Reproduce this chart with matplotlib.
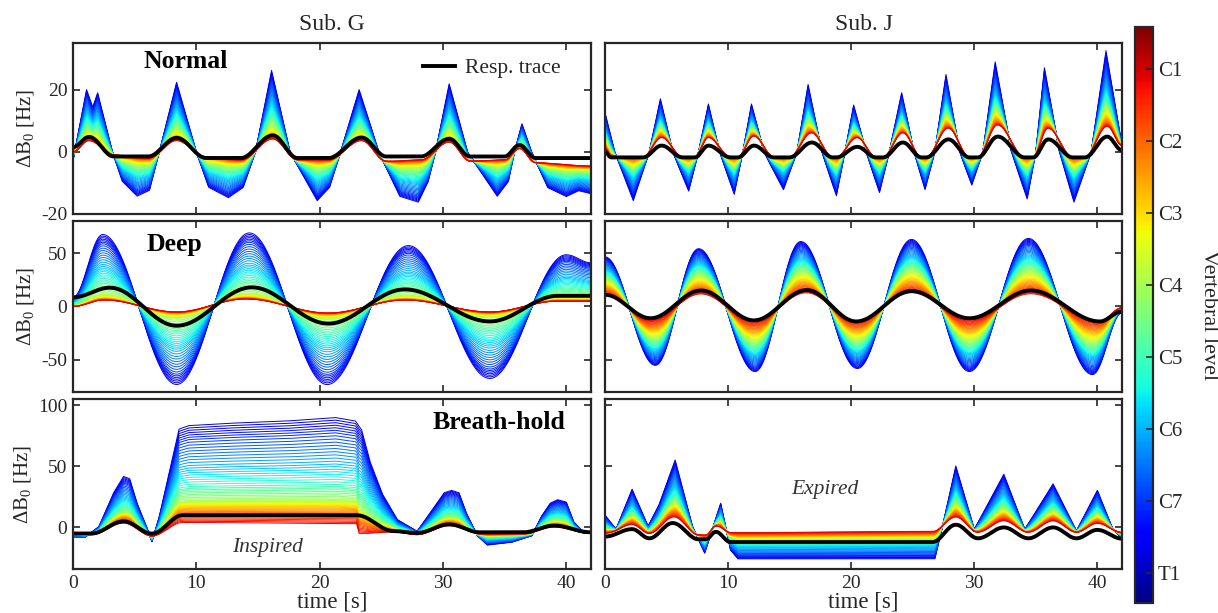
import numpy as np
import matplotlib
matplotlib.use('Agg')
import matplotlib.pyplot as plt
from matplotlib import colors

plt.rcParams['font.family'] = 'Liberation Serif'
plt.rcParams['mathtext.fontset'] = 'custom'
plt.rcParams['mathtext.rm'] = 'Liberation Serif'
plt.rcParams['mathtext.it'] = 'Liberation Serif:italic'
plt.rcParams['axes.unicode_minus'] = False

TXT = '#262626'

# vertebral levels, bottom (T1) to top (C1) of the colour bar
level_names = ['T1', 'C7', 'C6', 'C5', 'C4', 'C3', 'C2', 'C1']

# ---- Sub. G, normal breathing ----
ng_trace_t = [0, 1.3, 3.3, 6.1, 8.4, 10.8, 13.6, 16.2, 18.2, 20.7, 23.4, 25.4, 28.2, 30.5, 32.2, 35.0, 36.2, 37.5, 42]
ng_trace = [1.5, 4.8, -1.5, -1.5, 4.5, -2.0, -2.0, 5.3, -2.0, -2.0, 4.6, -1.5, -1.5, 4.2, -1.5, -1.5, 2.2, -2.0, -2.0]
ng_c1_t = ng_trace_t
ng_c1 = [0.0, 3.5, -1.0, -2.0, 3.5, -1.5, -2.5, 4.0, -2.5, -2.5, 3.5, -3.0, -2.5, 3.0, -3.0, -2.5, 1.0, -3.5, -4.5]
ng_t1_t = [0, 1.1, 1.6, 2.0, 3.2, 4.0, 5.2, 6.2, 7.0, 8.4, 10.0, 11.0, 12.6, 13.8, 14.8, 16.1, 17.6, 19.8, 20.8,
           21.7, 23.2, 24.8, 26.5, 28.0, 28.8, 29.4, 30.5, 32.0, 34.4, 35.3, 35.8, 36.4, 37.2, 38.5, 40.0, 41.0, 42]
ng_t1 = [-3, 21, 15, 20, 0, -10, -15, -13, 0, 23.5, 0, -12, -15.5, -12, 0, 27.5, 0, -16.5, -12,
         0, 21, 0, -15, -17, -10, 0, 23, 0, -15, -10, 0, 9.5, 0, -12, -15, -13, -14]
ng_gain = [1.0, 0.8, 0.55, 0.35, 0.2, 0.1, 0.04, 0.0]

# ---- Sub. J, normal breathing ----
nj_trace_t = [0, 0.5, 3.1, 4.6, 6.3, 7.3, 8.4, 10.2, 10.8, 12.1, 13.7, 15.0, 16.8, 18.5, 18.8, 20.5, 22.0, 22.6,
              24.2, 25.7, 26.1, 27.9, 29.6, 30.3, 31.9, 34.1, 34.8, 36.0, 38.0, 39.0, 40.8, 42]
nj_trace = [0.0, -1.8, -1.8, 2.0, -1.8, -1.8, 2.0, -1.8, -1.8, 2.0, -1.8, -1.8, 3.0, -1.8, -1.8, 1.6, -1.8, -1.8,
            3.0, -1.8, -1.8, 4.0, -1.8, -1.8, 4.9, -1.8, -1.8, 4.0, -1.8, -1.8, 4.9, 0.5]
nj_c1_t = nj_trace_t
nj_c1 = [1.0, -1.5, -1.5, 4.5, -1.5, -1.5, 4.5, -1.5, -1.5, 5.0, -1.5, -1.5, 6.0, -1.5, -1.5, 4.5, -1.5, -1.5,
         6.0, -1.5, -1.5, 7.5, -1.5, -1.5, 8.5, -1.5, -1.5, 7.5, -1.5, -1.5, 8.0, 2.0]
nj_t1_t = [0, 0.8, 2.3, 3.6, 4.5, 5.5, 6.8, 7.6, 8.4, 9.3, 10.5, 11.2, 11.9, 12.9, 14.5, 15.6, 16.5, 17.6, 18.8,
           19.5, 20.2, 21.2, 22.3, 23.1, 24.1, 25.1, 26.0, 26.8, 27.7, 28.8, 29.8, 30.7, 31.7, 33.0, 34.3, 35.0,
           35.7, 36.9, 38.1, 39.5, 40.7, 42]
nj_t1 = [13.5, 0, -16.8, 0, 18, 0, -13.5, 0, 16.2, 0, -14.6, 0, 16.2, 0, -13, 0, 22.9, 0, -15.1,
         0, 15.9, 0, -14, 0, 20, 0, -13, 0, 26.2, 0, -11.4, 0, 30.5, 0, -16.2, 0,
         28.6, 0, -17.3, 0, 34.4, 2]
nj_gain = [1.0, 0.75, 0.5, 0.35, 0.25, 0.15, 0.06, 0.0]

# ---- Sub. G, deep breathing ----
dg_trace_t = [0, 3.0, 8.4, 14.5, 20.7, 26.9, 33.8, 39.3, 42]
dg_trace = [8.6, 17.6, -18, 17.9, -16, 16, -14, 10, 10]
dg_c1_t = [0, 2.5, 8.4, 14.0, 20.7, 26.9, 33.8, 39.3, 42]
dg_c1 = [0, 6, -5, 7, -6, 6, -5, 5, 5]
dg_t1_t = [0, 2.4, 8.4, 14.3, 20.6, 27.2, 33.8, 40.0, 42]
dg_t1 = [9, 71, -77, 72.5, -77, 60, -71, 51, 43]
dg_gain = [1.0, 0.8, 0.5, 0.28, 0.08, 0.03, 0.01, 0.0]

# ---- Sub. J, deep breathing ----
dj_trace_t = [0, 3.7, 7.8, 12.1, 16.4, 20.4, 24.9, 29.6, 34.6, 40.2, 42]
dj_trace = [11, -11, 15, -13, 15.4, -14, 14.5, -11, 15, -14, -4.6]
dj_c1_t = dj_trace_t
dj_c1 = [10, -12, 11, -13, 12, -13, 12, -12, 11, -13, -1]
dj_t1_t = [0, 4.1, 7.6, 12.2, 15.9, 20.5, 24.9, 29.6, 34.4, 39.6, 42]
dj_t1 = [48, -57, 56, -63, 63, -60, 65, -63, 66, -66, -6]
dj_gain = [1.0, 0.85, 0.67, 0.53, 0.4, 0.27, 0.14, 0.0]

# ---- Sub. G, breath-hold (inspired) ----
bg_trace_t = [0, 1.5, 4.1, 6.4, 8.9, 23.0, 26.0, 27.9, 30.5, 33.0, 36.5, 39.0, 42]
bg_trace = [-5, -5, 5, -5, 10, 10, -3, -4.5, 2.5, -4, -4, 1.5, -4]
bg_c1_t = [0, 1.5, 4.1, 6.4, 8.9, 23.0, 23.2, 26.0, 27.9, 30.5, 33.0, 36.5, 39.0, 42]
bg_c1 = [-4, -6, 3, -7, 3, 2, -6, -4, -6, 1, -5, -5, 0, -5]
bg_t1_t = [0, 1.0, 2.1, 3.3, 4.1, 4.6, 5.2, 6.0, 6.4, 7.0, 7.7, 8.6, 9.4, 12.6, 17.3, 21.3, 22.9, 23.4, 24.1,
           25.1, 26.3, 27.9, 29.1, 30.1, 30.7, 31.3, 31.9, 32.8, 33.6, 35.6, 37.2, 38.0, 38.7, 39.3, 40.0,
           40.6, 41.2, 42]
bg_t1 = [-8, -8, 1, 30, 44, 42, 21, 0, -12, 10, 43, 85, 88, 90, 92, 95, 92, 85, 57,
         29, 7, -3, 15, 30, 32, 30, 12.5, -7, -15, -12.5, -7, 10, 21, 24, 22,
         5, -2, -5]
bg_gain = [1.0, 0.8, 0.55, 0.35, 0.22, 0.17, 0.1, 0.0]

# ---- Sub. J, breath-hold (expired) ----
bj_trace_t = [0, 2.2, 3.6, 5.5, 7.6, 8.2, 9.0, 10.2, 26.6, 28.5, 30.3, 32.4, 34.4, 36.4, 38.3, 40.0, 42]
bj_trace = [-7.5, -1.4, -8.9, 3.6, -9.7, -9.7, -3.6, -12, -12, 2.2, -8.9, 0, -8.9, 0, -8.9, -2, -9.2]
bj_c1_t = [0, 2.2, 3.6, 5.6, 7.6, 8.2, 9.0, 10.2, 26.6, 28.5, 30.3, 32.4, 34.4, 36.4, 38.3, 40.0, 42]
bj_c1 = [-5, 2, -5, 8, -6, -6, 1, -4, -3, 8, -4, 5, -4, 5, -4, 3, -4]
bj_t1_t = [0, 0.9, 2.2, 3.5, 4.4, 5.7, 7.1, 8.1, 9.4, 10.2, 10.8, 26.8, 27.4, 28.5, 30.0, 32.4, 34.1,
           36.4, 38.3, 40.0, 41.2, 42]
bj_t1 = [11, -1.4, 33, 1.4, 20, 58, 1.4, -22, 21, -19.5, -27, -27, 0, 52.8, -1.4, 45.8, -1.4,
         37.5, -2.8, 32, 0, -9.7]
bj_gain = [1.0, 0.8, 0.55, 0.38, 0.26, 0.17, 0.09, 0.0]


def ease(tk, vk, t):
    # cosine easing between key points (smooth turns at peaks)
    tk = np.asarray(tk, float)
    vk = np.asarray(vk, float)
    i = np.clip(np.searchsorted(tk, t, side='right') - 1, 0, len(tk) - 2)
    s = np.clip((t - tk[i]) / (tk[i + 1] - tk[i]), 0, 1)
    w = (1 - np.cos(np.pi * s)) / 2
    return vk[i] + (vk[i + 1] - vk[i]) * w


cmap = plt.get_cmap('jet')
norm = colors.Normalize(0, 8)
level_pos = np.arange(8) + 0.42


def draw_panel(ax, tr_t, tr, c1_t, c1, t1_t, t1, gain, smooth_top, label=None):
    t = np.arange(0, 42.001, 0.1)
    base = ease(c1_t, c1, t)
    top = ease(t1_t, t1, t) if smooth_top else np.interp(t, t1_t, t1)
    lv = np.linspace(0.7, 7.3, 60)
    g = np.interp(lv, level_pos, gain)
    for l, gi in zip(lv, g):
        ax.plot(t, base + gi * (top - base), color=cmap(norm(l)), lw=0.7)
    ax.plot(t, ease(tr_t, tr, t), color='k', lw=2.8, label=label)


fig = plt.figure(figsize=(12.18, 6.13), dpi=100)
W, H = 1218, 613
cols = [(73, 591), (605, 1122)]
rows = [(43, 214), (221, 392), (399, 569)]
axes = [[None, None] for _ in rows]
for r, (y0, y1) in enumerate(rows):
    for c, (x0, x1) in enumerate(cols):
        axes[r][c] = fig.add_axes([x0 / W, 1 - y1 / H, (x1 - x0) / W, (y1 - y0) / H])

draw_panel(axes[0][0], ng_trace_t, ng_trace, ng_c1_t, ng_c1, ng_t1_t, ng_t1, ng_gain, False, 'Resp. trace')
draw_panel(axes[0][1], nj_trace_t, nj_trace, nj_c1_t, nj_c1, nj_t1_t, nj_t1, nj_gain, False)
draw_panel(axes[1][0], dg_trace_t, dg_trace, dg_c1_t, dg_c1, dg_t1_t, dg_t1, dg_gain, True)
draw_panel(axes[1][1], dj_trace_t, dj_trace, dj_c1_t, dj_c1, dj_t1_t, dj_t1, dj_gain, True)
draw_panel(axes[2][0], bg_trace_t, bg_trace, bg_c1_t, bg_c1, bg_t1_t, bg_t1, bg_gain, False)
draw_panel(axes[2][1], bj_trace_t, bj_trace, bj_c1_t, bj_c1, bj_t1_t, bj_t1, bj_gain, False)

ylims = [(-20, 35), (-80, 80), (-34, 105)]
yticks = [[-20, 0, 20], [-50, 0, 50], [0, 50, 100]]
for r in range(3):
    for c in range(2):
        ax = axes[r][c]
        ax.set_xlim(0, 42)
        ax.set_ylim(*ylims[r])
        ax.set_xticks([0, 10, 20, 30, 40])
        ax.set_yticks(yticks[r])
        ax.tick_params(direction='in', top=True, right=True, length=5, width=1.2,
                       colors=TXT, labelsize=14, pad=4)
        for s in ax.spines.values():
            s.set_linewidth(1.6)
            s.set_color(TXT)
        if c == 1:
            ax.set_yticklabels([])
        else:
            ax.set_ylabel(r'ΔB$_0$ [Hz]', fontsize=15, color=TXT, labelpad=4)
        if r < 2:
            ax.set_xticklabels([])
        else:
            ax.set_xlabel('time [s]', fontsize=16.5, color=TXT, labelpad=0)

axes[0][0].set_title('Sub. G', fontsize=17, color=TXT, pad=9)
axes[0][1].set_title('Sub. J', fontsize=17, color=TXT, pad=9)

axes[0][0].text(0.218, 0.889, 'Normal', transform=axes[0][0].transAxes, ha='center', va='center',
                fontsize=18.5, fontweight='bold', color='k')
axes[1][0].text(0.195, 0.865, 'Deep', transform=axes[1][0].transAxes, ha='center', va='center',
                fontsize=18.5, fontweight='bold', color='k')
axes[2][0].text(0.822, 0.859, 'Breath-hold', transform=axes[2][0].transAxes, ha='center', va='center',
                fontsize=18.5, fontweight='bold', color='k')
axes[2][0].text(0.376, 0.124, 'Inspired', transform=axes[2][0].transAxes, ha='center', va='center',
                fontsize=15.5, style='italic', color='#333333')
axes[2][1].text(0.4255, 0.47, 'Expired', transform=axes[2][1].transAxes, ha='center', va='center',
                fontsize=15.5, style='italic', color='#333333')

leg = axes[0][0].legend(loc='upper right', bbox_to_anchor=(0.97, 1.0), frameon=False, fontsize=15.5,
                        handlelength=1.5, handletextpad=0.45, borderaxespad=0.3)
for txt in leg.get_texts():
    txt.set_color(TXT)

cax = fig.add_axes([1135 / W, 1 - 603 / H, 18 / W, 576 / H])
sm = plt.cm.ScalarMappable(norm=norm, cmap=cmap)
cb = fig.colorbar(sm, cax=cax)
cb.set_ticks(level_pos)
cb.set_ticklabels(level_names)
cb.ax.tick_params(direction='in', length=5, width=1.2, colors=TXT, labelsize=15)
cb.outline.set_linewidth(1.6)
cb.outline.set_edgecolor(TXT)
cb.set_label('Vertebral level', rotation=270, fontsize=16, color=TXT, labelpad=26)

fig.savefig('out.png', dpi=100)
